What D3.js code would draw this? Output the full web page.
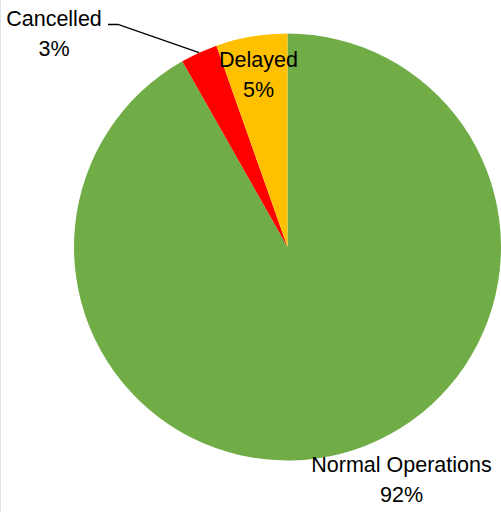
<!DOCTYPE html>
<html>
<head>
<meta charset="utf-8">
<script src="https://cdn.jsdelivr.net/npm/d3@7"></script>
<style>
  body { margin: 0; background: #fff; }
  svg { display: block; }
  text { font-family: "Liberation Sans", Arial, sans-serif; font-size: 21.5px; fill: #000; }
</style>
</head>
<body>
<svg></svg>
<script>
const categories = ["Normal Operations", "Cancelled", "Delayed"];
const values = [91.8, 2.8, 5.4];
const percentLabels = ["92%", "3%", "5%"];
const colors = ["#70AD47", "#FF0000", "#FFC000"];

let width = 501;
let height = 512;
let cx = 287.5;
let cy = 247;
let radius = 213.5;

const svg = d3.select("svg")
  .attr("width", width)
  .attr("height", height);

// faint frame edge on the left
svg.append("line")
  .attr("x1", 0.5).attr("x2", 0.5)
  .attr("y1", 0).attr("y2", height)
  .attr("stroke", "#dfe4ea")
  .attr("stroke-width", 1);

const pie = d3.pie().sort(null).value((d) => d);
const arcs = pie(values);

const arc = d3.arc().innerRadius(0).outerRadius(radius);
const rimArc = d3.arc().innerRadius(radius).outerRadius(radius);

const g = svg.append("g")
  .attr("transform", `translate(${cx}, ${cy})`);

g.selectAll("path")
  .data(arcs)
  .enter()
  .append("path")
  .attr("d", arc)
  .attr("fill", (d, i) => colors[i]);

// label anchor points (first line baseline, relative to svg)
let labelPos = [
  [401.5, 472],
  [54, 26],
  [258.5, 67]
];
let lineGap = 30;

const labels = svg.selectAll("text.label")
  .data(categories)
  .enter()
  .append("text")
  .attr("class", "label")
  .attr("text-anchor", "middle")
  .attr("x", (d, i) => labelPos[i][0])
  .attr("y", (d, i) => labelPos[i][1]);

labels.append("tspan")
  .attr("x", (d, i) => labelPos[i][0])
  .text((d) => d);
labels.append("tspan")
  .attr("x", (d, i) => labelPos[i][0])
  .attr("dy", lineGap)
  .text((d, i) => percentLabels[i]);

// leader line for Cancelled
const tip = rimArc.centroid(arcs[1]);
svg.append("polyline")
  .attr("points", [
    [108, 24.5],
    [118, 24.5],
    [cx + tip[0], cy + tip[1]]
  ].map((p) => p.join(",")).join(" "))
  .attr("fill", "none")
  .attr("stroke", "#000")
  .attr("stroke-width", 1.3);
</script>
</body>
</html>
